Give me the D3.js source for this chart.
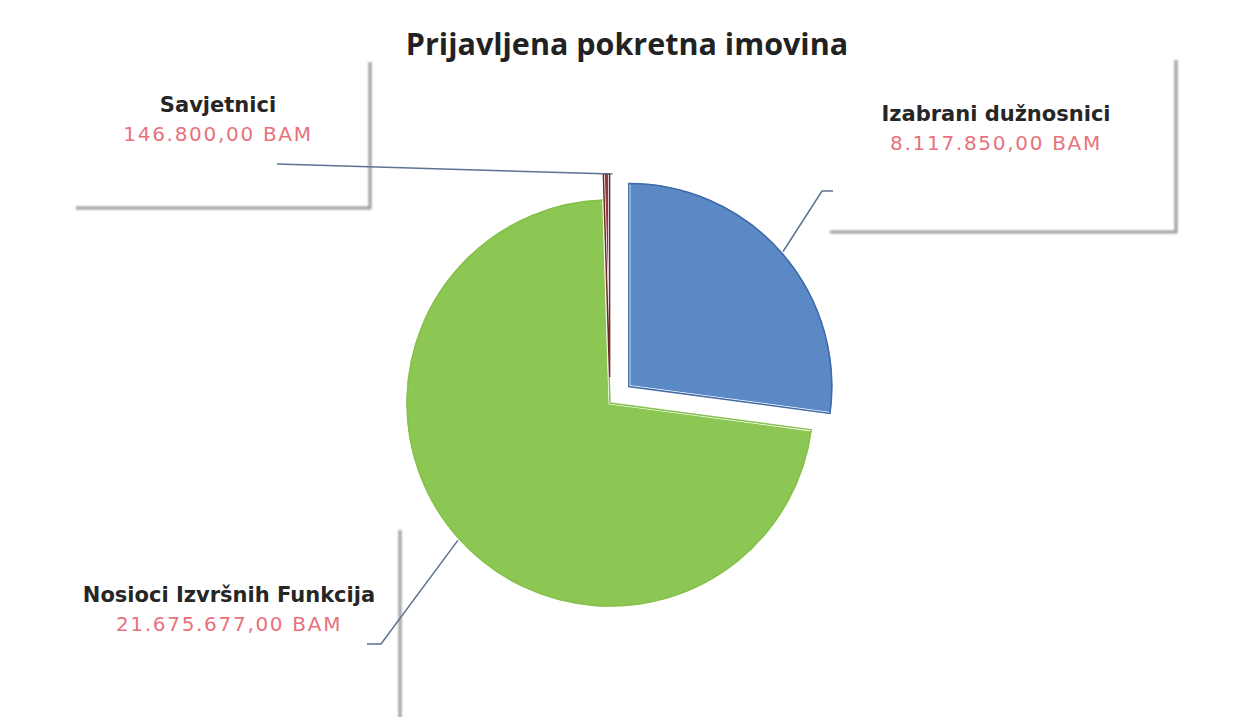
<!DOCTYPE html>
<html>
<head>
<meta charset="utf-8">
<script src="https://cdn.jsdelivr.net/npm/d3@7"></script>
<style>
  body { margin: 0; background: #fff; }
  svg { display: block; }
</style>
</head>
<body>
<svg id="chart"></svg>
<script>
// data
let categories = ["Izabrani dužnosnici", "Nosioci Izvršnih Funkcija", "Savjetnici"];
let values = [8117850, 21675677, 146800];
let valueLabels = ["8.117.850,00 BAM", "21.675.677,00 BAM", "146.800,00 BAM"];
let colors = ["#5a89c6", "#8cc653", "#8a3b3b"];
let edgeColors = ["#3f6aa6", "#86c04c", "#6e2a2a"];

let w = 1243, h = 717;
let cx = 610, cy = 403, r = 205;
let explode = [25, 0, 26];

// label boxes (position of text centre, box shadow edges)
let labelPos = [
    { x: 996, y: 121, box: [830, 60, 1176, 232] },
    { x: 229, y: 602, box: [90, 530, 400, 760] },
    { x: 218, y: 112, box: [76, 62, 370, 208] }
];

let svg = d3.select("#chart")
    .attr("width", w)
    .attr("height", h);

let defs = svg.append("defs");
defs.append("filter").attr("id", "blur")
    .attr("x", "-10%").attr("y", "-10%").attr("width", "120%").attr("height", "120%")
    .append("feGaussianBlur").attr("stdDeviation", 1.2);

svg.append("rect").attr("width", w).attr("height", h).attr("fill", "#fff");

// title
svg.append("text")
    .attr("x", 627)
    .attr("y", 55)
    .attr("text-anchor", "middle")
    .style("font-family", "'Open Sans', sans-serif")
    .style("font-weight", "bold")
    .style("font-size", "30.5px")
    .style("fill", "#222")
    .text("Prijavljena pokretna imovina");

// label box shadows (right + bottom edges only)
labelPos.forEach(l => {
    let [x0, y0, x1, y1] = l.box;
    svg.append("path")
        .attr("d", `M${x1},${y0} L${x1},${y1} L${x0},${y1}`)
        .attr("fill", "none")
        .attr("stroke", "#9a9a9a")
        .attr("stroke-width", 3)
        .attr("filter", "url(#blur)");
});

let pie = d3.pie().sort(null).value(d => d)(values);

let arc = d3.arc().innerRadius(0).outerRadius(r);
let innerArc = d3.arc().innerRadius(0).outerRadius(r - 2);

function offset(d, i) {
    let a = (d.startAngle + d.endAngle) / 2;
    return [Math.sin(a) * explode[i], -Math.cos(a) * explode[i]];
}

let g = svg.append("g").attr("transform", `translate(${cx},${cy})`);

let slices = g.selectAll("g.slice")
    .data(pie)
    .enter()
    .append("g")
    .attr("class", "slice")
    .attr("transform", (d, i) => `translate(${offset(d, i)})`);

slices.append("path")
    .attr("d", arc)
    .attr("fill", (d, i) => colors[i])
    .attr("stroke", "#fff")
    .attr("stroke-width", 3);

slices.append("path")
    .attr("d", innerArc)
    .attr("fill", "none")
    .attr("stroke", (d, i) => edgeColors[i])
    .attr("stroke-width", 1.5);

// leader lines
let lineColor = "#5d7290";
let leader = [
    [[833, 191], [822, 191]],
    [[367, 644], [381, 644]],
    [[277, 164]]
];

pie.forEach((d, i) => {
    let a = (d.startAngle + d.endAngle) / 2;
    let o = offset(d, i);
    let px = cx + o[0] + Math.sin(a) * r;
    let py = cy + o[1] - Math.cos(a) * r;
    if (i === 2) { px = px + 6; py = py + 2; }
    let pts = leader[i].concat([[px, py]]);
    svg.append("path")
        .attr("d", d3.line()(pts))
        .attr("fill", "none")
        .attr("stroke", lineColor)
        .attr("stroke-width", 1.5);
});

// labels
labelPos.forEach((l, i) => {
    svg.append("text")
        .attr("x", l.x)
        .attr("y", l.y)
        .attr("text-anchor", "middle")
        .style("font-family", "'DejaVu Sans', sans-serif")
        .style("font-weight", "bold")
        .style("font-size", "21px")
        .style("fill", "#262626")
        .text(categories[i]);
    svg.append("text")
        .attr("x", l.x)
        .attr("y", l.y + 29)
        .attr("text-anchor", "middle")
        .style("font-family", "'DejaVu Sans', sans-serif")
        .style("font-size", "20px")
        .style("letter-spacing", "1.7px")
        .style("fill", "#e8727c")
        .text(valueLabels[i]);
});
</script>
</body>
</html>
